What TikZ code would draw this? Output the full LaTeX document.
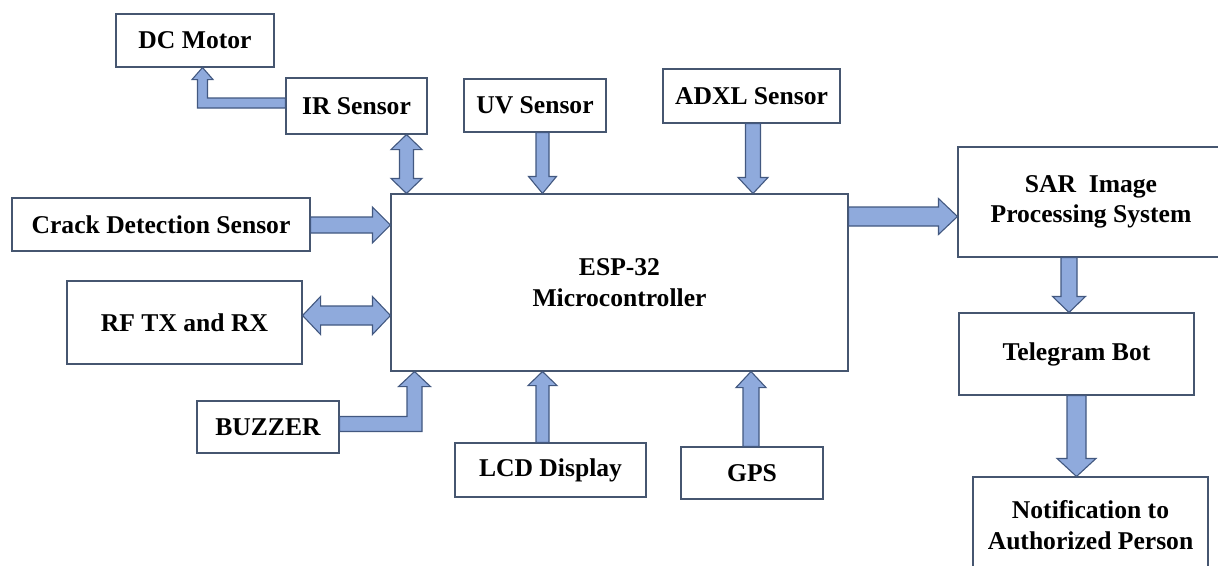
\documentclass[tikz,border=0pt]{standalone}
\usepackage{fontspec}
\setmainfont{Liberation Serif}
\usetikzlibrary{calc}
\definecolor{afill}{RGB}{143,170,220}
\definecolor{aline}{RGB}{66,88,128}
\definecolor{bline}{RGB}{70,86,112}
\tikzset{
  blk/.style={draw=bline, line width=1.1pt, fill=white, inner sep=0pt, align=center,
    font=\bfseries\fontsize{25.6}{30.5}\selectfont},
  barrow/.style={draw=aline, fill=afill, line width=1.1pt, line join=miter}
}
% vertical arrow pointing down: #1 start, #2 tip, #3 shaft half, #4 head half, #5 head length
\newcommand\ArrD[5]{\draw[barrow] let \p1=(#1), \p2=(#2) in
 (\x1-#3pt,\y1) -- (\x1-#3pt,\y2+#5pt) -- (\x1-#4pt,\y2+#5pt) -- (\x1,\y2) -- (\x1+#4pt,\y2+#5pt) -- (\x1+#3pt,\y2+#5pt) -- (\x1+#3pt,\y1) -- cycle;}
\newcommand\ArrU[5]{\draw[barrow] let \p1=(#1), \p2=(#2) in
 (\x1-#3pt,\y1) -- (\x1-#3pt,\y2-#5pt) -- (\x1-#4pt,\y2-#5pt) -- (\x1,\y2) -- (\x1+#4pt,\y2-#5pt) -- (\x1+#3pt,\y2-#5pt) -- (\x1+#3pt,\y1) -- cycle;}
\newcommand\ArrR[5]{\draw[barrow] let \p1=(#1), \p2=(#2) in
 (\x1,\y1+#3pt) -- (\x2-#5pt,\y1+#3pt) -- (\x2-#5pt,\y1+#4pt) -- (\x2,\y1) -- (\x2-#5pt,\y1-#4pt) -- (\x2-#5pt,\y1-#3pt) -- (\x1,\y1-#3pt) -- cycle;}
% double horizontal: #1 left tip, #2 right tip
\newcommand\ArrLR[5]{\draw[barrow] let \p1=(#1), \p2=(#2) in
 (\x1,\y1) -- (\x1+#5pt,\y1+#4pt) -- (\x1+#5pt,\y1+#3pt) -- (\x2-#5pt,\y1+#3pt) -- (\x2-#5pt,\y1+#4pt) -- (\x2,\y1) -- (\x2-#5pt,\y1-#4pt) -- (\x2-#5pt,\y1-#3pt) -- (\x1+#5pt,\y1-#3pt) -- (\x1+#5pt,\y1-#4pt) -- cycle;}
% double vertical: #1 top tip, #2 bottom tip
\newcommand\ArrUD[5]{\draw[barrow] let \p1=(#1), \p2=(#2) in
 (\x1,\y1) -- (\x1+#4pt,\y1-#5pt) -- (\x1+#3pt,\y1-#5pt) -- (\x1+#3pt,\y2+#5pt) -- (\x1+#4pt,\y2+#5pt) -- (\x1,\y2) -- (\x1-#4pt,\y2+#5pt) -- (\x1-#3pt,\y2+#5pt) -- (\x1-#3pt,\y1-#5pt) -- (\x1-#4pt,\y1-#5pt) -- cycle;}
% elbow: left then up
\newcommand\ElbLU[5]{\draw[barrow] let \p1=(#1), \p2=(#2) in
 (\x1,\y1+#3pt) -- (\x2+#3pt,\y1+#3pt) -- (\x2+#3pt,\y2-#5pt) -- (\x2+#4pt,\y2-#5pt) -- (\x2,\y2) -- (\x2-#4pt,\y2-#5pt) -- (\x2-#3pt,\y2-#5pt) -- (\x2-#3pt,\y1-#3pt) -- (\x1,\y1-#3pt) -- cycle;}
% elbow: right then up
\newcommand\ElbRU[5]{\draw[barrow] let \p1=(#1), \p2=(#2) in
 (\x1,\y1+#3pt) -- (\x2-#3pt,\y1+#3pt) -- (\x2-#3pt,\y2-#5pt) -- (\x2-#4pt,\y2-#5pt) -- (\x2,\y2) -- (\x2+#4pt,\y2-#5pt) -- (\x2+#3pt,\y2-#5pt) -- (\x2+#3pt,\y1-#3pt) -- (\x1,\y1-#3pt) -- cycle;}
\begin{document}
\begin{tikzpicture}[x=1pt,y=-1pt]
\useasboundingbox (0,0) rectangle (1218,565);
\clip (0,0) rectangle (1218,565);
\fill[white] (0,0) rectangle (1218,565);
% nodes
\node[blk, minimum width=158pt, minimum height=53pt] (dc) at (195,40.5) {DC Motor};
\node[blk, minimum width=141pt, minimum height=56pt] (ir) at (356.5,106) {IR Sensor};
\node[blk, minimum width=142pt, minimum height=53pt] (uv) at (535,105.5) {UV Sensor};
\node[blk, minimum width=177pt, minimum height=54pt] (adxl) at (751.5,96) {ADXL Sensor};
\node[blk, minimum width=298pt, minimum height=53pt] (crack) at (161,224.5) {Crack Detection Sensor};
\node[blk, minimum width=235pt, minimum height=83pt] (rf) at (184.5,322.5) {RF TX and RX};
\node[blk, minimum width=457pt, minimum height=177pt] (esp) at (619.5,282.5) {ESP-32\\Microcontroller};
\node[blk, minimum width=142pt, minimum height=52pt] (buz) at (268,427) {BUZZER};
\node[blk, minimum width=191pt, minimum height=54pt] (lcd) at (550.5,470) {LCD Display};
\node[blk, minimum width=142pt, minimum height=52pt] (gps) at (752,473) {GPS};
\node[blk, minimum width=266pt, minimum height=110pt] (sar) at (1091,202) {SAR\ \ Image\\Processing System};
\node[blk, minimum width=235pt, minimum height=82pt] (tel) at (1076.5,354) {Telegram Bot};
\node[blk, minimum width=235pt, minimum height=96pt] (notif) at (1090.5,525) {Notification to\\Authorized Person};
% connector end points
\coordinate (a1s) at (ir.west |- 0,103);
\coordinate (a1t) at (202.5,0 |- dc.south);
\coordinate (a2s) at (406.5,0 |- ir.south);
\coordinate (a2t) at (406.5,0 |- esp.north);
\coordinate (a3s) at (542.5,0 |- uv.south);
\coordinate (a3t) at (542.5,0 |- esp.north);
\coordinate (a4s) at (753,0 |- adxl.south);
\coordinate (a4t) at (753,0 |- esp.north);
\coordinate (a5s) at (crack.east |- 0,225);
\coordinate (a5t) at (esp.west |- 0,225);
\coordinate (a6s) at (rf.east |- 0,315.5);
\coordinate (a6t) at (esp.west |- 0,315.5);
\coordinate (a7s) at (buz.east |- 0,424);
\coordinate (a7t) at (414.5,0 |- esp.south);
\coordinate (a8s) at (542.5,0 |- lcd.north);
\coordinate (a8t) at (542.5,0 |- esp.south);
\coordinate (a9s) at (751,0 |- gps.north);
\coordinate (a9t) at (751,0 |- esp.south);
\coordinate (a10s) at (esp.east |- 0,216.5);
\coordinate (a10t) at (sar.west |- 0,216.5);
\coordinate (a11s) at (1069,0 |- sar.south);
\coordinate (a11t) at (1069,0 |- tel.north);
\coordinate (a12s) at (1076.5,0 |- tel.south);
\coordinate (a12t) at (1076.5,0 |- notif.north);
% connectors
\ElbLU{a1s}{a1t}{5}{10.5}{12}
\ArrUD{a2s}{a2t}{7}{15.5}{15}
\ArrD{a3s}{a3t}{6.5}{14}{17}
\ArrD{a4s}{a4t}{7.5}{15}{16}
\ArrR{a5s}{a5t}{8}{18}{18}
\ArrLR{a6s}{a6t}{9.5}{19}{18}
\ElbRU{a7s}{a7t}{7.5}{16}{15}
\ArrU{a8s}{a8t}{6.5}{14.5}{14}
\ArrU{a9s}{a9t}{8}{15}{16}
\ArrR{a10s}{a10t}{9.5}{18}{19}
\ArrD{a11s}{a11t}{8}{16.5}{16}
\ArrD{a12s}{a12t}{9.5}{19.5}{18}
\end{tikzpicture}
\end{document}
